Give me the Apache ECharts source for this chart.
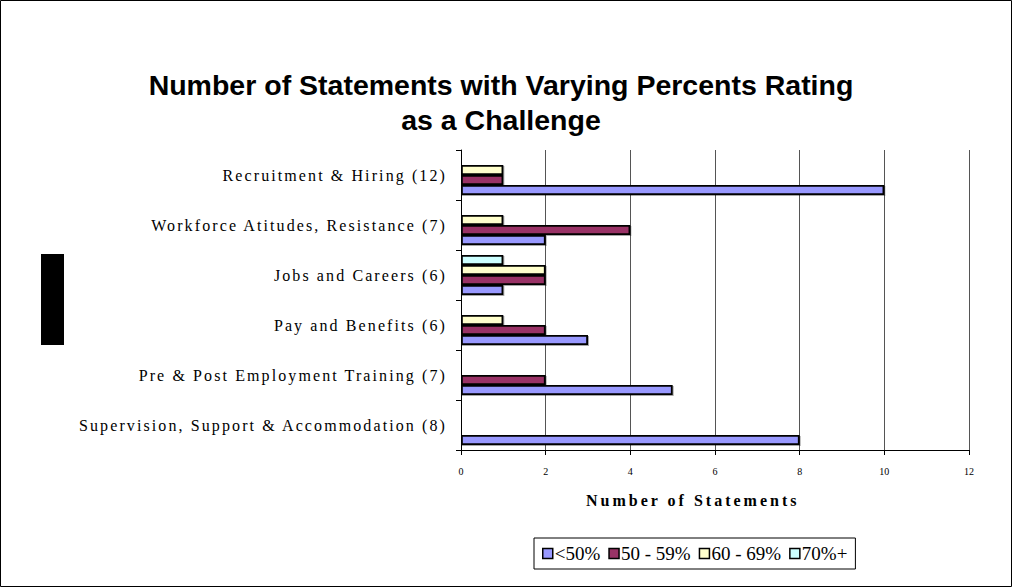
<!DOCTYPE html>
<html><head><meta charset="utf-8">
<script src="https://cdn.jsdelivr.net/npm/echarts@6/dist/echarts.min.js"></script>
<style>html,body{margin:0;padding:0;background:#fff}#c{width:1013px;height:588px}</style>
</head><body><div id="c"></div>
<script>
const categories = ["Supervision, Support & Accommodation (8)", "Pre & Post Employment Training (7)", "Pay and Benefits (6)", "Jobs and Careers (6)", "Workforce Atitudes, Resistance (7)", "Recruitment & Hiring (12)"];
const seriesNames = ["<50%", "50 - 59%", "60 - 69%", "70%+"];
const under50 = [8, 5, 3, 1, 2, 10];
const s50to59 = [0, 2, 2, 2, 4, 1];
const s60to69 = [0, 0, 1, 2, 1, 1];
const s70plus = [0, 0, 0, 1, 0, 0];
const xTicks = [0, 2, 4, 6, 8, 10, 12];
const xAxisTitle = "Number of Statements";
const colors = ["#9999FF", "#993366", "#FFFFCC", "#CCFFFF"];
const values = [under50, s50to59, s60to69, s70plus];

const chart = echarts.init(document.getElementById('c'), null, {renderer: 'svg'});
const seriesList = values.map((d, i) => ({
  name: seriesNames[i], type: 'bar', data: d.map(v => v === 0 ? '-' : v),
  barGap: '0%', barCategoryGap: '20%',
  itemStyle: {color: colors[i], borderColor: '#000', borderWidth: 1.8,
              shadowColor: 'rgba(0,0,0,0.35)', shadowOffsetX: 1, shadowOffsetY: 1, shadowBlur: 0}
})).reverse();

chart.setOption({
  animation: false,
  title: {
    text: "Number of Statements with Varying Percents Rating\nas a Challenge",
    left: 496, top: 62, textAlign: 'center',
    textStyle: {fontFamily: 'Liberation Sans', fontWeight: 'bold', fontSize: 28.5, lineHeight: 35, color: '#000'}
  },
  legend: {
    bottom: 19, left: 534,
    itemWidth: 10, itemHeight: 10, itemGap: 8,
    padding: [6, 8, 6, 8],
    borderColor: '#000', borderWidth: 1,
    textStyle: {fontFamily: 'Liberation Serif', fontSize: 19, color: '#000', padding: [0, 0, 0, -3]},
    data: seriesNames.map((n, i) => ({name: n, icon: 'rect', itemStyle: {color: colors[i], borderColor: '#000', borderWidth: 1.5, shadowBlur: 0, shadowOffsetX: 0, shadowOffsetY: 0}}))
  },
  grid: {left: 461, right: 44, top: 150, bottom: 138},
  xAxis: {
    type: 'value', min: 0, max: 12, interval: 2,
    axisLine: {show: true, lineStyle: {color: '#000', width: 1}},
    axisTick: {show: true, length: 5, lineStyle: {color: '#000'}},
    axisLabel: {fontFamily: 'Liberation Serif', fontSize: 10, color: '#000', margin: 16, formatter: v => xTicks.includes(v) ? String(v) : ''},
    splitLine: {show: true, lineStyle: {color: '#555', width: 1}}
  },
  yAxis: {
    type: 'category', data: categories,
    axisLine: {show: true, lineStyle: {color: '#000'}},
    axisTick: {show: true, length: 5, inside: false, lineStyle: {color: '#000'}},
    axisLabel: {fontFamily: 'Liberation Serif', fontSize: 16, color: '#000', margin: 14},
    splitLine: {show: false}
  },
  series: seriesList,
  graphic: [
    {type: 'rect', shape: {x: 0.5, y: 0.5, width: 1011, height: 586}, style: {fill: 'none', stroke: '#000', lineWidth: 1}, z: 100},
    {type: 'rect', shape: {x: 41, y: 254, width: 23, height: 91}, style: {fill: '#000'}},
    {type: 'text', left: 586, top: 492, style: {text: xAxisTitle, fontFamily: 'Liberation Serif', fontWeight: 'bold', fontSize: 16, fill: '#000'}}
  ]
});

document.querySelectorAll('#c svg text').forEach(t => {
  const s = t.textContent;
  if (categories.includes(s)) t.setAttribute('letter-spacing', '2.1');
  else if (s === xAxisTitle) t.setAttribute('letter-spacing', '3');
});
</script></body></html>
